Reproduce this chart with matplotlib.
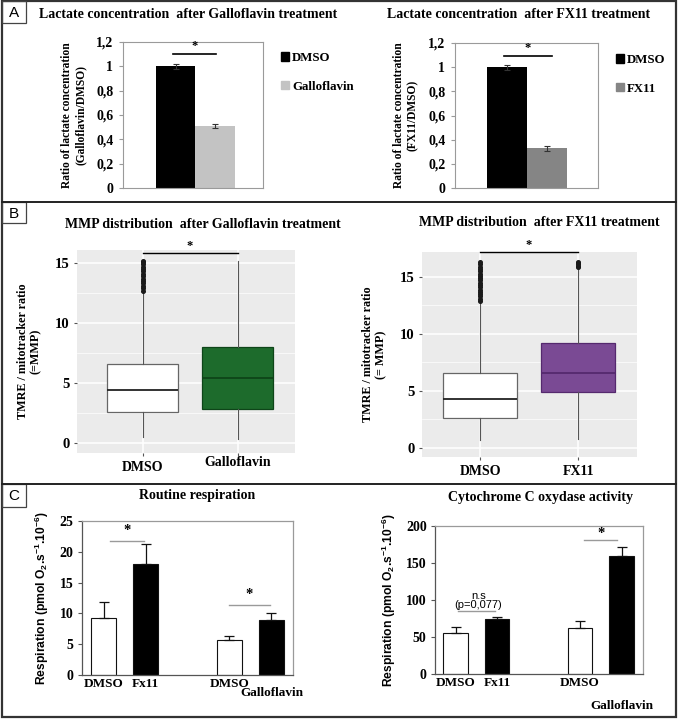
import numpy as np
import matplotlib
matplotlib.use("Agg")
import matplotlib.pyplot as plt
from matplotlib.patches import Patch, Rectangle

W, H = 680, 719
SERIF = "Liberation Serif"
SANS = "Liberation Sans"

plt.rcParams['font.family'] = [SERIF, 'DejaVu Serif']
plt.rcParams['font.weight'] = 'bold'
plt.rcParams['axes.labelweight'] = 'bold'
plt.rcParams['mathtext.fontset'] = 'custom'
plt.rcParams['mathtext.rm'] = 'Liberation Sans:bold'
plt.rcParams['mathtext.default'] = 'rm'

# ---- A : lactate ratio
lact_g_groups = ["DMSO", "Galloflavin"]
lact_g_vals = [1.0, 0.51]
lact_g_err = [0.02, 0.015]
lact_f_groups = ["DMSO", "FX11"]
lact_f_vals = [1.0, 0.33]
lact_f_err = [0.02, 0.02]
lact_ticks = [0, 0.2, 0.4, 0.6, 0.8, 1.0, 1.2]
lact_ticklabels = ["0", "0,2", "0,4", "0,6", "0,8", "1", "1,2"]

# ---- B : MMP boxplots (whislo, q1, med, q3, whishi)
mmp_g_labels = ["DMSO", "Galloflavin"]
mmp_g_stats = [[0.5, 2.6, 4.4, 6.6, 12.6], [0.3, 2.8, 5.4, 8.0, 15.2]]
mmp_g_fliers = [[12.7, 12.9, 13.1, 13.3, 13.5, 13.7, 13.9, 14.1, 14.3, 14.5, 14.7, 14.9, 15.1, 15.2], []]
mmp_f_labels = ["DMSO", "FX11"]
mmp_f_stats = [[0.7, 2.6, 4.3, 6.6, 12.8], [0.8, 4.9, 6.6, 9.2, 15.8]]
mmp_f_fliers = [[12.9, 13.1, 13.3, 13.5, 13.7, 13.9, 14.1, 14.3, 14.5, 14.7, 14.9, 15.1, 15.3,
                 15.5, 15.7, 15.9, 16.1, 16.3],
                [15.9, 16.0, 16.1, 16.2, 16.3]]

# ---- C : respiration
resp_labels = ["DMSO", "Fx11", "DMSO", "Galloflavin"]
resp_pos = [0, 1, 3, 4]
resp_colors = ["white", "black", "white", "black"]
routine_vals = [9.2, 18.0, 5.7, 9.0]
routine_err = [2.6, 3.2, 0.7, 1.0]
cox_vals = [56, 74, 62, 160]
cox_err = [7, 3, 10, 12]

fig = plt.figure(figsize=(W / 100, H / 100), dpi=100)
fig.patch.set_facecolor('white')

bg = fig.add_axes([0, 0, 1, 1])
bg.set_xlim(0, W)
bg.set_ylim(H, 0)
bg.axis('off')


def px_axes(x0, y0, x1, y1):
    return fig.add_axes([x0 / W, 1 - y1 / H, (x1 - x0) / W, (y1 - y0) / H])


# frames
bg.add_patch(Rectangle((2, 1), 674, 716, fill=False, ec='#333333', lw=1.6))
bg.plot([2, 676], [202, 202], color='#222222', lw=1.4)
bg.plot([2, 676], [484, 484], color='#222222', lw=1.4)
for lab, (y0, y1) in zip("ABC", [(1, 23), (202, 223), (484, 507)]):
    bg.add_patch(Rectangle((2, y0), 24, y1 - y0, fill=False, ec='#444444', lw=0.9))
    bg.text(14, (y0 + y1) / 2 + 1, lab, family=SANS, weight='normal', fontsize=11,
            ha='center', va='center')

# titles
titles = [
    (188, 15, "Lactate concentration  after Galloflavin treatment"),
    (519, 14, "Lactate concentration  after FX11 treatment"),
    (203, 224, "MMP distribution  after Galloflavin treatment"),
    (539, 223, "MMP distribution  after FX11 treatment"),
    (197, 495, "Routine respiration"),
    (540, 498, "Cytochrome C oxydase activity"),
]
for x, y, s in titles:
    bg.text(x, y, s, fontsize=10, ha='center', va='center')


def lactate_panel(box, groups, vals, errs, colors, ylabel, xlim, sig, leg_xy):
    ax = px_axes(*box)
    x = np.arange(len(vals))
    ax.bar(x, vals, width=1.0, color=colors, yerr=errs, capsize=2,
           error_kw=dict(elinewidth=0.8, ecolor='#333333', capthick=0.8))
    ax.set_xlim(xlim)
    ax.set_ylim(0, 1.2)
    ax.set_yticks(lact_ticks)
    ax.set_yticklabels(lact_ticklabels)
    ax.set_xticks([])
    for s in ax.spines.values():
        s.set_color('#9a9a9a')
        s.set_linewidth(0.8)
    ax.tick_params(axis='y', length=3, color='#9a9a9a', labelsize=10, pad=4)
    ax.set_ylabel(ylabel, fontsize=8.3, labelpad=7, linespacing=1.1)
    ax.plot(sig[:2], [sig[2]] * 2, color='black', lw=1.2, clip_on=False)
    ax.text(np.mean(sig[:2]), sig[2] + 0.02, "*", ha='center', va='bottom', fontsize=9)
    handles = [Patch(color=c) for c in colors]
    ax.legend(handles, groups, loc='upper left', bbox_to_anchor=(leg_xy[0] / W, 1 - leg_xy[1] / H),
              bbox_transform=fig.transFigure, frameon=False, handlelength=0.6, handleheight=0.6,
              handletextpad=0.25, labelspacing=1.3, fontsize=9.3, borderpad=0, borderaxespad=0)


lactate_panel((123, 42, 263, 188), lact_g_groups, lact_g_vals, lact_g_err, ['black', '#c3c3c3'],
              "Ratio of lactate concentration\n(Galloflavin/DMSO)", (-1.33, 2.21),
              (-0.07, 1.02, 1.10), (281, 52))
lactate_panel((455, 43, 598, 188), lact_f_groups, lact_f_vals, lact_f_err, ['black', '#858585'],
              "Ratio of lactate concentration\n(FX11/DMSO)", (-1.3, 2.28),
              (-0.07, 1.12, 1.09), (616, 54))


def mmp_panel(box, labels, stats, fliers, colors, edges, xlim, ylim, ylabel, sig_y, minor):
    ax = px_axes(*box)
    ax.set_facecolor('#ebebeb')
    bstats = [dict(whislo=s[0], q1=s[1], med=s[2], q3=s[3], whishi=s[4], fliers=f, label=l)
              for s, f, l in zip(stats, fliers, labels)]
    bp = ax.bxp(bstats, positions=[1, 2], widths=0.75, patch_artist=True, showcaps=False,
                whiskerprops=dict(color='#555555', linewidth=0.8),
                flierprops=dict(marker='o', markersize=2.6, markerfacecolor='#1a1a1a',
                                markeredgecolor='#1a1a1a', linestyle='none'))
    for patch, med, c, e in zip(bp['boxes'], bp['medians'], colors, edges):
        patch.set_facecolor(c)
        patch.set_edgecolor(e)
        patch.set_linewidth(0.9)
        med.set_color(e if c != 'white' else '#222222')
        med.set_linewidth(1.3)
    ax.set_xlim(xlim)
    ax.set_ylim(ylim)
    ax.set_yticks([0, 5, 10, 15])
    ax.set_yticks(minor, minor=True)
    ax.grid(which='major', color='white', lw=1.1)
    ax.grid(which='minor', axis='y', color='white', lw=0.5)
    ax.set_axisbelow(True)
    for s in ax.spines.values():
        s.set_visible(False)
    ax.tick_params(axis='both', which='major', length=2, color='#555555', labelsize=10)
    ax.tick_params(axis='y', which='major', labelsize=10.5)
    ax.tick_params(axis='y', which='minor', length=0)
    ax.set_ylabel(ylabel, fontsize=8.7, labelpad=9, linespacing=1.1)
    ax.plot([1, 2], [sig_y, sig_y], color='black', lw=1.0, clip_on=False)
    ax.text(1.5, sig_y + 0.1, "*", ha='center', va='bottom', fontsize=9, clip_on=False)
    return ax


axb1 = mmp_panel((77, 250, 295, 453), mmp_g_labels, mmp_g_stats, mmp_g_fliers,
                 ['white', '#1d6b2c'], ['#666666', '#0e4519'], (0.31, 2.605), (-0.83, 16.08),
                 "TMRE / mitotracker ratio\n(=MMP)", 15.83, [2.5, 7.5, 12.5])
ticks = axb1.xaxis.get_major_ticks()
ticks[0].set_pad(4)
ticks[1].set_pad(0.5)
axb2 = mmp_panel((422, 252, 637, 457), mmp_f_labels, mmp_f_stats, mmp_f_fliers,
                 ['white', '#7a4a94'], ['#666666', '#55296e'], (0.408, 2.6), (-0.79, 17.19),
                 "TMRE / mitotracker ratio\n(= MMP)", 17.19, [2.5, 7.5, 12.5])
for t in axb2.xaxis.get_major_ticks():
    t.set_pad(4)


def resp_panel(box, vals, errs, ylim, yticks, xlim, sigs, gallo_pad):
    ax = px_axes(*box)
    ax.bar(resp_pos, vals, width=0.6, color=resp_colors, edgecolor='#111111', linewidth=0.8,
           yerr=[np.zeros(len(vals)), errs], capsize=3.5,
           error_kw=dict(elinewidth=0.9, capthick=0.9, ecolor='#111111'))
    ax.set_xlim(xlim)
    ax.set_ylim(ylim)
    ax.set_yticks(yticks)
    ax.set_xticks(resp_pos)
    ax.set_xticklabels(resp_labels)
    ax.tick_params(axis='y', length=3, color='#555555', labelsize=10, pad=3)
    ax.tick_params(axis='x', length=0, labelsize=9.5, pad=2)
    ax.xaxis.get_major_ticks()[3].set_pad(gallo_pad)
    ax.spines['left'].set_color('#555555')
    ax.spines['bottom'].set_color('#555555')
    ax.spines['top'].set_color('#9a9a9a')
    ax.spines['right'].set_color('#9a9a9a')
    for s in ax.spines.values():
        s.set_linewidth(0.9)
    ax.set_ylabel(r"Respiration (pmol O$_2$.s$^{-1}$.10$^{-6}$)", family=SANS, fontsize=8.7,
                  labelpad=6)
    for x0, x1, y, ystar in sigs:
        ax.plot([x0, x1], [y, y], color='#9a9a9a', lw=1.0)
        ax.text((x0 + x1) / 2, ystar, "*", ha='center', va='center', fontsize=10.5)
    return ax


resp_panel((82, 521, 293, 675), routine_vals, routine_err, (0, 25), [0, 5, 10, 15, 20, 25],
           (-0.512, 4.512), [(0.15, 0.96, 21.8, 23.4), (2.99, 3.96, 11.3, 13.0)], 9)
axc2 = resp_panel((435, 526, 643, 674), cox_vals, cox_err, (0, 200), [0, 50, 100, 150, 200],
                  (-0.494, 4.518), [(3.1, 3.9, 181, 190)], 19)
axc2.plot([0.06, 0.95], [85.6, 85.6], color='#9a9a9a', lw=1.0)
axc2.text(0.55, 105, "n.s", family=SANS, weight='normal', fontsize=8, ha='center', va='center')
axc2.text(0.55, 93, "(p=0,077)", family=SANS, weight='normal', fontsize=8, ha='center', va='center')

fig.savefig("out.png", dpi=100)
